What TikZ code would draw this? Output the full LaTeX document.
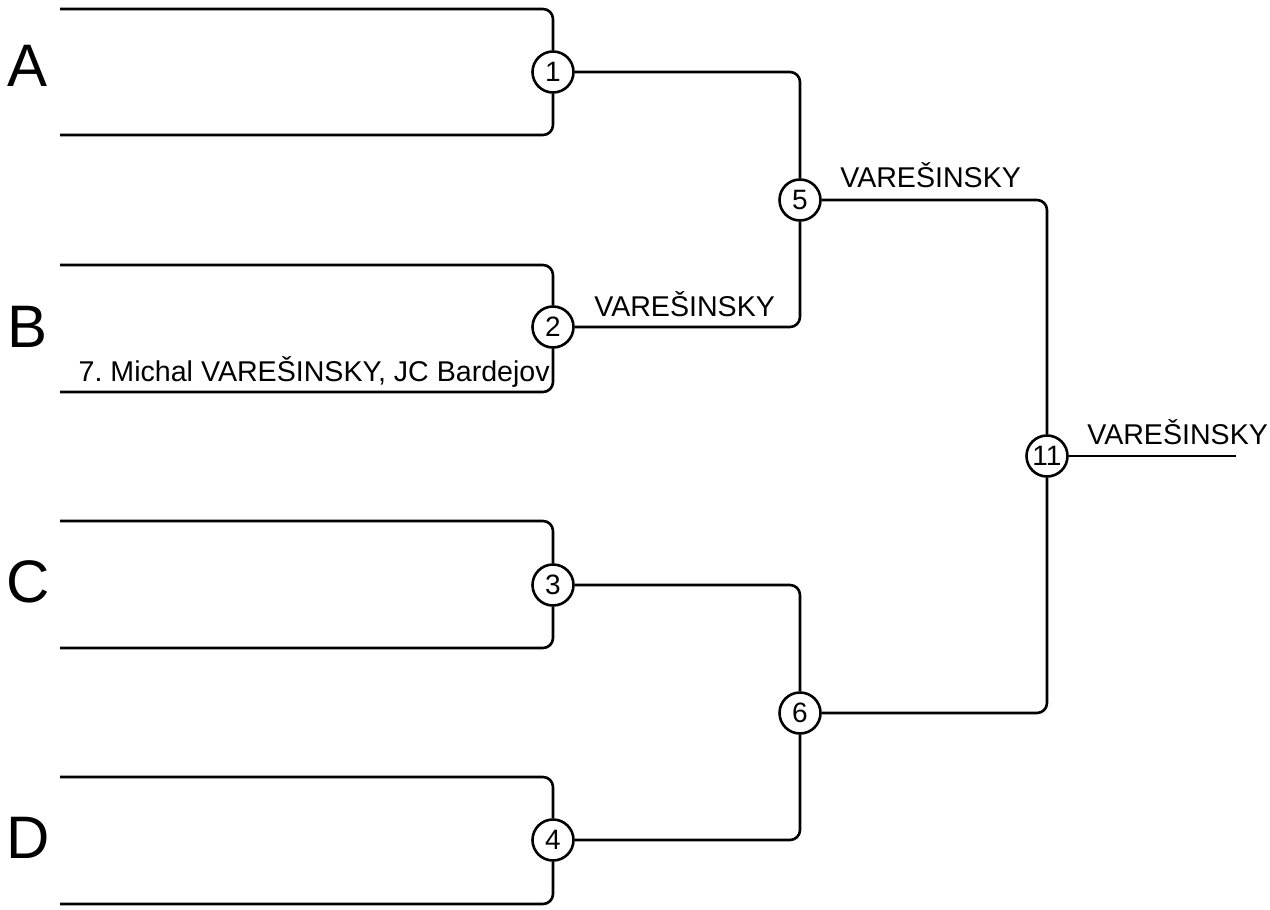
\documentclass[tikz,border=0pt]{standalone}
\usepackage{fontspec}
\setmainfont{Liberation Sans}
\frenchspacing
\begin{document}
\begin{tikzpicture}[x=1pt,y=-1pt,line width=2.6pt,
  num/.style={circle,draw,fill=white,minimum size=41pt,inner sep=0pt,font=\fontsize{28}{28}\selectfont},
  conn/.style={rounded corners=10pt},
  lbl/.style={font=\fontsize{28.6}{28.6}\selectfont,inner sep=0pt,anchor=base west},
  big/.style={font=\fontsize{60}{60}\selectfont,inner sep=0pt}]
\useasboundingbox (0,0) rectangle (1270,910);
\node[num] (c1) at (553,72) {1};
\node[num] (c2) at (553,327) {2};
\node[num] (c3) at (553,585) {3};
\node[num] (c4) at (553,840) {4};
\node[num] (c5) at (800,200) {5};
\node[num] (c6) at (800,713) {6};
\node[num] (c11) at (1047,456) {11};
\coordinate (a1) at (60,9);   \coordinate (a2) at (60,135);
\coordinate (b1) at (60,265); \coordinate (b2) at (60,392);
\coordinate (d1) at (60,521); \coordinate (d2) at (60,648);
\coordinate (e1) at (60,777); \coordinate (e2) at (60,904);
\coordinate (w) at (1236,456);
\draw[conn] (a1) -| (c1); \draw[conn] (a2) -| (c1);
\draw[conn] (b1) -| (c2); \draw[conn] (b2) -| (c2);
\draw[conn] (d1) -| (c3); \draw[conn] (d2) -| (c3);
\draw[conn] (e1) -| (c4); \draw[conn] (e2) -| (c4);
\draw[conn] (c1) -| (c5); \draw[conn] (c2) -| (c5);
\draw[conn] (c3) -| (c6); \draw[conn] (c4) -| (c6);
\draw[conn] (c5) -| (c11); \draw[conn] (c6) -| (c11);
\draw (c11) -- (w);
\node[big] (lA) at (28,66) {A};
\node[big] (lB) at (28,327) {B};
\node[big] (lC) at (28,582) {C};
\node[big] (lD) at (28,838) {D};
\node[lbl] (t2) at (593,316) {VAREŠINSKY};
\node[lbl] (t5) at (839,187) {VAREŠINSKY};
\node[lbl] (t11) at (1086,444) {VAREŠINSKY};
\node[lbl,anchor=base east] (n2) at (551,381) {7. Michal VAREŠINSKY, JC Bardejov};
\end{tikzpicture}
\end{document}
